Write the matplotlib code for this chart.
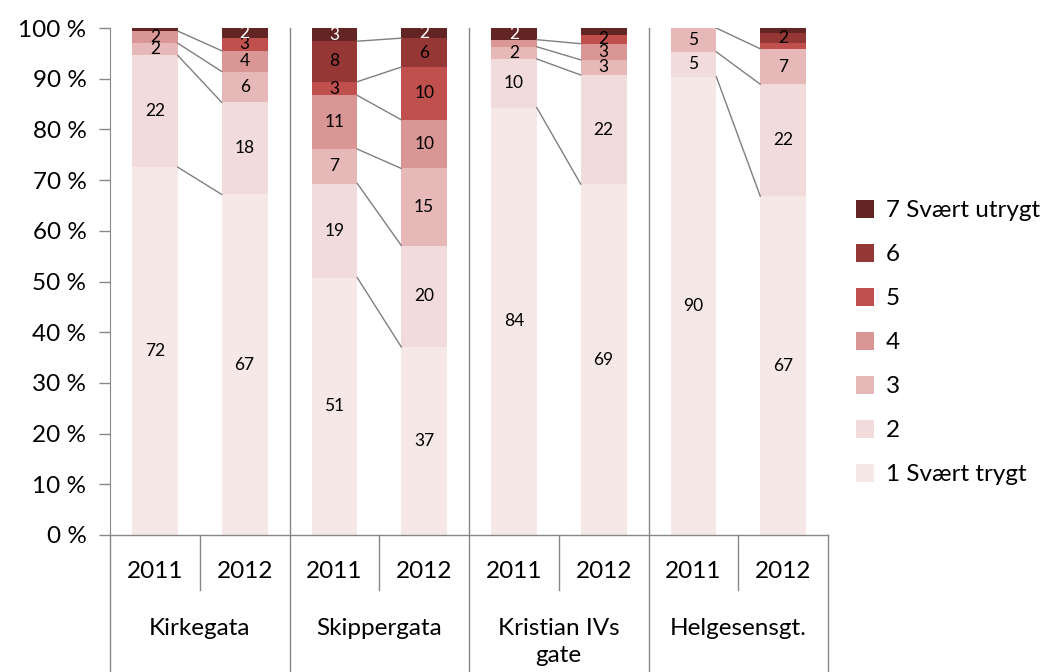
import matplotlib.pyplot as plt
from matplotlib.patches import Patch
import numpy as np

plt.rcParams['font.family'] = ['Lato', 'DejaVu Sans']

streets = ["Kirkegata", "Skippergata", "Kristian IVs\ngate", "Helgesensgt."]
years = ["2011", "2012"]
levels = ["1 Svært trygt", "2", "3", "4", "5", "6", "7 Svært utrygt"]
colors = ["#F7E8E8", "#F2DCDB", "#E6B9B8", "#D99694", "#C0504D", "#953735", "#632523"]

# one value per bar: Kirk 2011, Kirk 2012, Skip 2011, Skip 2012, Kr4 2011, Kr4 2012, Helg 2011, Helg 2012
lvl1 = [72.4, 67.3, 50.8, 37.1, 84.3, 69.4, 90.4, 66.9]
lvl2 = [22.0, 18.2, 18.6, 20.0, 9.6, 21.6, 4.9, 22.1]
lvl3 = [2.4, 6.1, 6.8, 15.2, 2.4, 3.0, 4.7, 7.0]
lvl4 = [2.4, 4.1, 10.6, 9.6, 1.4, 3.2, 0.0, 0.0]
lvl5 = [0.0, 2.6, 2.7, 10.4, 0.0, 1.7, 0.0, 1.1]
lvl6 = [0.0, 0.0, 8.0, 5.7, 0.0, 0.0, 0.0, 2.0]
lvl7 = [0.6, 1.9, 2.6, 2.0, 2.3, 1.4, 0.0, 1.0]

data = np.array([lvl1, lvl2, lvl3, lvl4, lvl5, lvl6, lvl7])
pct = data / data.sum(axis=0) * 100
x = np.arange(data.shape[1])
w = 0.51

fig = plt.figure(figsize=(10.46, 6.72), dpi=100)
ax = fig.add_axes([0.1052, 0.2039, 0.6864, 0.7544])

bottom = np.zeros(len(x))
for i in range(len(levels)):
    ax.bar(x, pct[i], w, bottom=bottom, color=colors[i], linewidth=0, zorder=2)
    for j in range(len(x)):
        v = data[i, j]
        if int(v + 0.5) >= 2:
            ax.text(x[j], bottom[j] + pct[i, j] / 2, str(int(v + 0.5)),
                    ha='center', va='center', fontsize=12.5,
                    color='white' if i == 6 else 'black', zorder=4)
    bottom = bottom + pct[i]

# series lines between 2011 and 2012 bars
cum = np.cumsum(pct, axis=0)
for g in range(4):
    a, b = 2 * g, 2 * g + 1
    for i in range(len(levels) - 1):
        if data[i, a] > 0 and data[i, b] > 0:
            ax.plot([x[a] + w / 2, x[b] - w / 2], [cum[i, a], cum[i, b]],
                    color='#7f7f7f', lw=1, zorder=3)

ax.set_xlim(-0.5, 7.5)
ax.set_ylim(0, 100)
ax.set_yticks(np.arange(0, 101, 10))
ax.set_yticklabels(["{} %".format(t) for t in range(0, 101, 10)], fontsize=17.5)
ax.set_xticks([])
ax.tick_params(axis='y', length=8, width=1, color='#878787', pad=9)
for s in ['top', 'right', 'bottom']:
    ax.spines[s].set_visible(False)
ax.spines['left'].set_color('#878787')
ax.axhline(0, color='#878787', lw=1, zorder=5, clip_on=False)

tr = ax.get_xaxis_transform()
ax.plot([-0.5, -0.5], [0, -0.2703], color='#878787', lw=1, transform=tr, clip_on=False)
for g in range(4):
    xs = 2 * g + 1.5
    top = 1.0 if g < 3 else 0.0
    ax.plot([xs, xs], [top, -0.2703], color='#878787', lw=1, transform=tr, clip_on=False)
    ax.plot([2 * g + 0.5, 2 * g + 0.5], [0, -0.1086], color='#878787', lw=1,
            transform=tr, clip_on=False)
    ax.text(2 * g, -0.0727, years[0], transform=tr, ha='center', va='center', fontsize=17.5)
    ax.text(2 * g + 1, -0.0727, years[1], transform=tr, ha='center', va='center', fontsize=17.5)
    ax.text(2 * g + 0.5, -0.163, streets[g], transform=tr, ha='center', va='top',
            fontsize=17.5, linespacing=1.4)

handles = [Patch(facecolor=colors[i], label=levels[i]) for i in range(len(levels))][::-1]
fig.legend(handles=handles, loc='center left', bbox_to_anchor=(0.797, 0.49),
           frameon=False, fontsize=17.5, handlelength=0.75, handleheight=0.75,
           handletextpad=0.5, labelspacing=0.93)

fig.savefig("out.png", dpi=100)
